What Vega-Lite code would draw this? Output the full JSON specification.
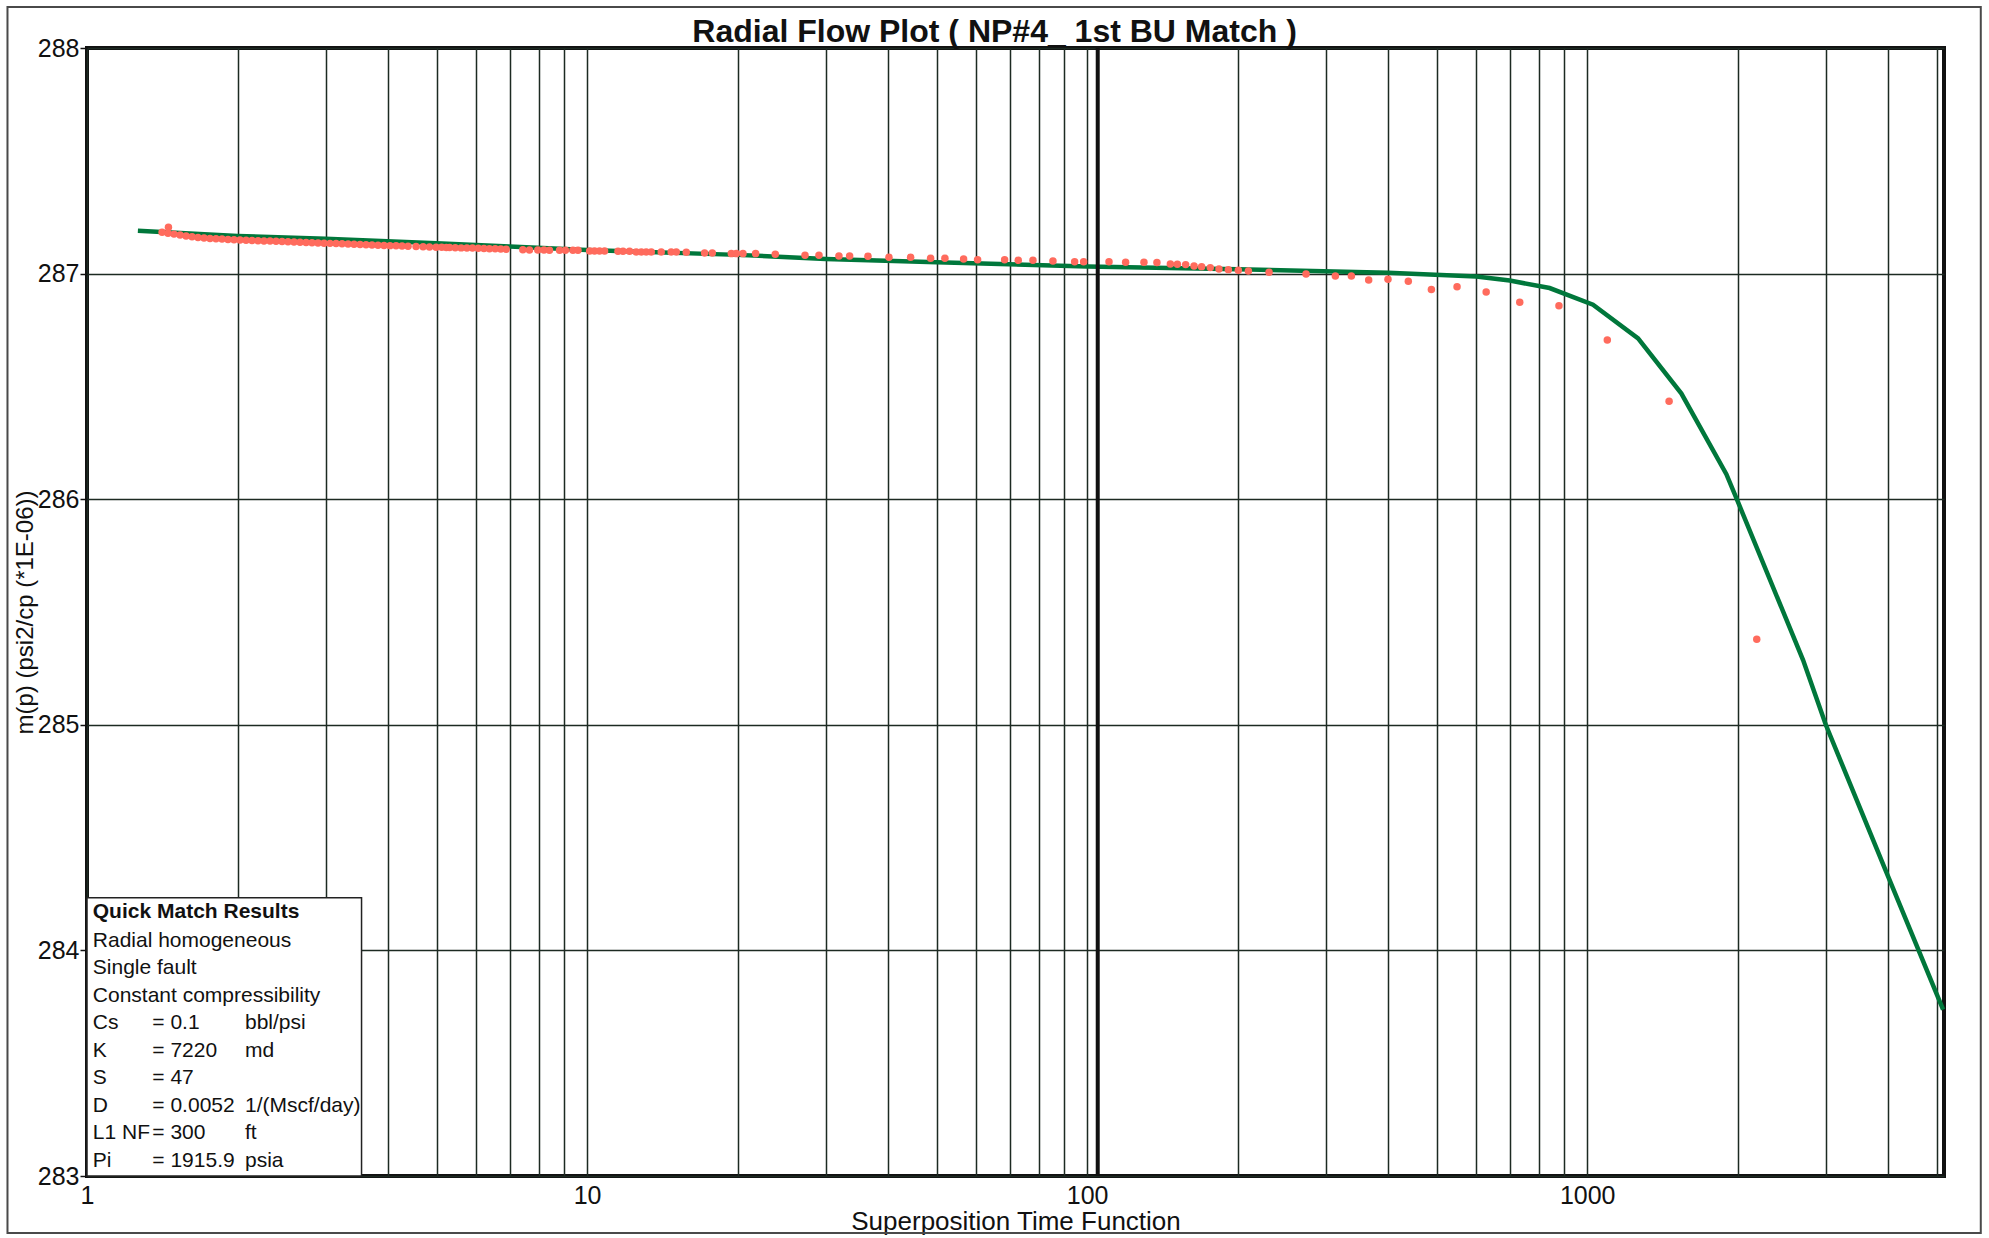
{
  "$schema": "https://vega.github.io/schema/vega-lite/v6.json",
  "width": 1857,
  "height": 1128,
  "autosize": {"type": "none"},
  "padding": {"left": 87, "top": 48, "right": 45, "bottom": 62},
  "background": "white",
  "config": {
    "view": {"stroke": "#111111", "strokeWidth": 4},
    "axis": {
      "grid": true,
      "gridColor": "#1c2a22",
      "gridWidth": 1.5,
      "gridOpacity": 1,
      "domain": false,
      "labelFont": "Liberation Sans",
      "labelFontSize": 25,
      "labelColor": "#111111",
      "titleFont": "Liberation Sans",
      "titleFontSize": 26,
      "titleFontWeight": "normal",
      "titleColor": "#111111"
    }
  },
  "datasets": {
    "fit": [
      {"x": 1.264, "y": 287.19}, {"x": 2.0, "y": 287.167}, {"x": 3.0, "y": 287.154}, {"x": 5.0, "y": 287.135},
      {"x": 7.0, "y": 287.12}, {"x": 10.0, "y": 287.105}, {"x": 20.0, "y": 287.083}, {"x": 30.0, "y": 287.065},
      {"x": 50.0, "y": 287.05}, {"x": 100.0, "y": 287.032}, {"x": 200.0, "y": 287.019}, {"x": 400.0, "y": 287.004},
      {"x": 600.0, "y": 286.987}, {"x": 700.0, "y": 286.969}, {"x": 841.0, "y": 286.936}, {"x": 1027.0, "y": 286.862},
      {"x": 1264.0, "y": 286.713}, {"x": 1543.0, "y": 286.468}, {"x": 1898.0, "y": 286.111}, {"x": 2000.0, "y": 285.99},
      {"x": 2702.0, "y": 285.287}, {"x": 3000.0, "y": 285.0}, {"x": 3966.0, "y": 284.346}, {"x": 5149.0, "y": 283.737}
    ],
    "obs": [
      {"x": 1.413, "y": 287.183}, {"x": 1.455, "y": 287.205}, {"x": 1.452, "y": 287.179}, {"x": 1.493, "y": 287.175},
      {"x": 1.535, "y": 287.171}, {"x": 1.578, "y": 287.167}, {"x": 1.622, "y": 287.163}, {"x": 1.667, "y": 287.16},
      {"x": 1.714, "y": 287.158}, {"x": 1.762, "y": 287.156}, {"x": 1.811, "y": 287.154}, {"x": 1.862, "y": 287.153},
      {"x": 1.914, "y": 287.151}, {"x": 1.968, "y": 287.15}, {"x": 2.023, "y": 287.149}, {"x": 2.08, "y": 287.148},
      {"x": 2.138, "y": 287.147}, {"x": 2.198, "y": 287.146}, {"x": 2.259, "y": 287.145}, {"x": 2.323, "y": 287.144},
      {"x": 2.388, "y": 287.143}, {"x": 2.455, "y": 287.142}, {"x": 2.523, "y": 287.141}, {"x": 2.594, "y": 287.14},
      {"x": 2.667, "y": 287.139}, {"x": 2.742, "y": 287.138}, {"x": 2.818, "y": 287.137}, {"x": 2.897, "y": 287.136},
      {"x": 2.979, "y": 287.135}, {"x": 3.062, "y": 287.134}, {"x": 3.148, "y": 287.133}, {"x": 3.236, "y": 287.132},
      {"x": 3.327, "y": 287.131}, {"x": 3.42, "y": 287.13}, {"x": 3.516, "y": 287.129}, {"x": 3.614, "y": 287.128},
      {"x": 3.715, "y": 287.127}, {"x": 3.819, "y": 287.126}, {"x": 3.926, "y": 287.125}, {"x": 4.036, "y": 287.124},
      {"x": 4.15, "y": 287.123}, {"x": 4.266, "y": 287.122}, {"x": 4.385, "y": 287.121}, {"x": 4.55, "y": 287.12},
      {"x": 4.7, "y": 287.119}, {"x": 4.84, "y": 287.118}, {"x": 4.99, "y": 287.117}, {"x": 5.12, "y": 287.117},
      {"x": 5.23, "y": 287.116}, {"x": 5.31, "y": 287.116}, {"x": 5.45, "y": 287.115}, {"x": 5.6, "y": 287.114},
      {"x": 5.75, "y": 287.113}, {"x": 5.9, "y": 287.113}, {"x": 6.06, "y": 287.112}, {"x": 6.22, "y": 287.111},
      {"x": 6.38, "y": 287.11}, {"x": 6.55, "y": 287.11}, {"x": 6.72, "y": 287.109}, {"x": 6.89, "y": 287.108},
      {"x": 7.44, "y": 287.106}, {"x": 7.67, "y": 287.105}, {"x": 7.97, "y": 287.105}, {"x": 8.2, "y": 287.105},
      {"x": 8.41, "y": 287.104}, {"x": 8.81, "y": 287.103}, {"x": 9.05, "y": 287.103}, {"x": 9.37, "y": 287.103},
      {"x": 9.59, "y": 287.103}, {"x": 10.12, "y": 287.1}, {"x": 10.35, "y": 287.1}, {"x": 10.59, "y": 287.1},
      {"x": 10.84, "y": 287.1}, {"x": 11.53, "y": 287.099}, {"x": 11.8, "y": 287.099}, {"x": 12.16, "y": 287.099},
      {"x": 12.54, "y": 287.096}, {"x": 12.84, "y": 287.096}, {"x": 13.13, "y": 287.096}, {"x": 13.44, "y": 287.096},
      {"x": 14.07, "y": 287.096}, {"x": 14.73, "y": 287.096}, {"x": 15.08, "y": 287.096}, {"x": 15.79, "y": 287.0945},
      {"x": 17.18, "y": 287.0915}, {"x": 17.8, "y": 287.0915}, {"x": 19.43, "y": 287.0886}, {"x": 19.88, "y": 287.0886},
      {"x": 20.5, "y": 287.0886}, {"x": 21.73, "y": 287.0886}, {"x": 23.79, "y": 287.0856}, {"x": 27.28, "y": 287.0812},
      {"x": 29.09, "y": 287.0812}, {"x": 31.89, "y": 287.0782}, {"x": 33.5, "y": 287.0782}, {"x": 36.45, "y": 287.0767},
      {"x": 40.15, "y": 287.0723}, {"x": 44.36, "y": 287.0723}, {"x": 48.64, "y": 287.0678}, {"x": 51.95, "y": 287.0678},
      {"x": 56.62, "y": 287.0649}, {"x": 60.39, "y": 287.0619}, {"x": 68.39, "y": 287.0619}, {"x": 72.82, "y": 287.059},
      {"x": 77.92, "y": 287.059}, {"x": 85.43, "y": 287.056}, {"x": 94.41, "y": 287.053}, {"x": 98.4, "y": 287.053},
      {"x": 110.6, "y": 287.053}, {"x": 119.4, "y": 287.05}, {"x": 129.9, "y": 287.05}, {"x": 137.9, "y": 287.0487},
      {"x": 146.7, "y": 287.0427}, {"x": 151.5, "y": 287.0412}, {"x": 157.4, "y": 287.0398}, {"x": 163.6, "y": 287.0338},
      {"x": 169.4, "y": 287.0309}, {"x": 176.3, "y": 287.0265}, {"x": 183.5, "y": 287.0205}, {"x": 191.6, "y": 287.0176},
      {"x": 200.6, "y": 287.0146}, {"x": 210.1, "y": 287.0117}, {"x": 231.1, "y": 287.0058}, {"x": 274.0, "y": 286.9984},
      {"x": 313.6, "y": 286.9895}, {"x": 337.6, "y": 286.9895}, {"x": 365.6, "y": 286.9718}, {"x": 399.6, "y": 286.9747},
      {"x": 438.8, "y": 286.9659}, {"x": 488.0, "y": 286.93}, {"x": 549.2, "y": 286.942}, {"x": 628.0, "y": 286.918},
      {"x": 733.0, "y": 286.873}, {"x": 878.0, "y": 286.858}, {"x": 1097.0, "y": 286.706}, {"x": 1458.0, "y": 286.434},
      {"x": 2183.0, "y": 285.379}
    ]
  },
  "layer": [
    {
      "data": {"values": [{}]},
      "mark": {"type": "rect", "fillOpacity": 0, "stroke": "#4a4a4a", "strokeWidth": 2},
      "encoding": {
        "x": {"datum": 0.6934, "type": "quantitative", "scale": {"type": "log", "domain": [1, 5170], "nice": false}, "title": "Superposition Time Function"},
        "x2": {"datum": 6124},
        "y": {"datum": 288.182, "type": "quantitative", "scale": {"domain": [283, 288], "nice": false, "zero": false}, "title": "m(p) (psi2/cp (*1E-06))"},
        "y2": {"datum": 282.747}
      }
    },
    {
      "data": {"name": "fit"},
      "mark": {"type": "line", "color": "#00773b", "strokeWidth": 4.5},
      "encoding": {
        "x": {
          "field": "x", "type": "quantitative",
          "scale": {"type": "log", "domain": [1, 5170], "nice": false},
          "title": "Superposition Time Function",
          "axis": {
            "values": [1, 2, 3, 4, 5, 6, 7, 8, 9, 10, 20, 30, 40, 50, 60, 70, 80, 90, 100, 200, 300, 400, 500, 600, 700, 800, 900, 1000, 2000, 3000, 4000, 5000],
            "format": "d",
            "labelExpr": "indexof([1, 10, 100, 1000], datum.value) >= 0 ? datum.label : ''",
            "labelFlush": false,
            "labelOverlap": false,
            "ticks": false,
            "labelPadding": 7,
            "titlePadding": 0
          }
        },
        "y": {
          "field": "y", "type": "quantitative",
          "scale": {"domain": [283, 288], "nice": false, "zero": false},
          "title": "m(p) (psi2/cp (*1E-06))",
          "axis": {
            "values": [283, 284, 285, 286, 287, 288],
            "format": "d",
            "ticks": true,
            "tickSize": 7,
            "tickColor": "#111111",
            "tickWidth": 1.5,
            "labelPadding": 1,
            "titlePadding": 0,
            "titleFontSize": 24
          }
        }
      }
    },
    {
      "data": {"values": [{}]},
      "mark": {"type": "rule", "color": "#111111", "strokeWidth": 4},
      "encoding": {
        "x": {"datum": 105, "type": "quantitative", "title": "Superposition Time Function"}
      }
    },
    {
      "data": {"name": "obs"},
      "mark": {"type": "point", "filled": true, "shape": "circle", "color": "#ff6b5d", "opacity": 1, "size": 56},
      "encoding": {
        "x": {"field": "x", "type": "quantitative", "scale": {"type": "log", "domain": [1, 5170], "nice": false}, "title": "Superposition Time Function"},
        "y": {"field": "y", "type": "quantitative", "scale": {"domain": [283, 288], "nice": false, "zero": false}, "title": "m(p) (psi2/cp (*1E-06))"}
      }
    },
    {
      "data": {"values": [{}]},
      "mark": {"type": "rect", "fill": "white", "stroke": "#222222", "strokeWidth": 1.5},
      "encoding": {
        "x": {"datum": 1, "type": "quantitative", "title": "Superposition Time Function"},
        "x2": {"datum": 3.54},
        "y": {"datum": 283, "type": "quantitative", "title": "m(p) (psi2/cp (*1E-06))"},
        "y2": {"datum": 284.233}
      }
    },
    {
      "data": {"values": [{}]},
      "mark": {"type": "text", "font": "Liberation Sans", "fontSize": 21, "fontWeight": "bold", "align": "left", "baseline": "alphabetic", "color": "#111111", "text": "Quick Match Results"},
      "encoding": {
        "x": {"datum": 1.027, "type": "quantitative", "title": "Superposition Time Function"},
        "y": {"datum": 284.143, "type": "quantitative", "title": "m(p) (psi2/cp (*1E-06))"}
      }
    },
    {
      "data": {"values": [{}]},
      "mark": {"type": "text", "font": "Liberation Sans", "fontSize": 21, "align": "left", "baseline": "alphabetic", "color": "#111111", "lineHeight": 27.5,
        "text": ["Radial homogeneous", "Single fault", "Constant compressibility", "Cs", "K", "S", "D", "L1 NF", "Pi"]},
      "encoding": {
        "x": {"datum": 1.027, "type": "quantitative", "title": "Superposition Time Function"},
        "y": {"datum": 284.017, "type": "quantitative", "title": "m(p) (psi2/cp (*1E-06))"}
      }
    },
    {
      "data": {"values": [{}]},
      "mark": {"type": "text", "font": "Liberation Sans", "fontSize": 21, "align": "left", "baseline": "alphabetic", "color": "#111111", "lineHeight": 27.5,
        "text": ["= 0.1", "= 7220", "= 47", "= 0.0052", "= 300", "= 1915.9"]},
      "encoding": {
        "x": {"datum": 1.351, "type": "quantitative", "title": "Superposition Time Function"},
        "y": {"datum": 283.65, "type": "quantitative", "title": "m(p) (psi2/cp (*1E-06))"}
      }
    },
    {
      "data": {"values": [{}]},
      "mark": {"type": "text", "font": "Liberation Sans", "fontSize": 21, "align": "left", "baseline": "alphabetic", "color": "#111111", "lineHeight": 27.5,
        "text": ["bbl/psi", "md"]},
      "encoding": {
        "x": {"datum": 2.07, "type": "quantitative", "title": "Superposition Time Function"},
        "y": {"datum": 283.65, "type": "quantitative", "title": "m(p) (psi2/cp (*1E-06))"}
      }
    },
    {
      "data": {"values": [{}]},
      "mark": {"type": "text", "font": "Liberation Sans", "fontSize": 21, "align": "left", "baseline": "alphabetic", "color": "#111111", "lineHeight": 27.5,
        "text": ["1/(Mscf/day)", "ft", "psia"]},
      "encoding": {
        "x": {"datum": 2.07, "type": "quantitative", "title": "Superposition Time Function"},
        "y": {"datum": 283.284, "type": "quantitative", "title": "m(p) (psi2/cp (*1E-06))"}
      }
    },
    {
      "data": {"values": [{}]},
      "mark": {"type": "text", "font": "Liberation Sans", "fontSize": 32, "fontWeight": "bold", "align": "center", "baseline": "alphabetic", "color": "#111111",
        "text": "Radial Flow Plot ( NP#4_ 1st BU Match )"},
      "encoding": {
        "x": {"datum": 65.3, "type": "quantitative", "title": "Superposition Time Function"},
        "y": {"datum": 288.027, "type": "quantitative", "title": "m(p) (psi2/cp (*1E-06))"}
      }
    }
  ]
}
